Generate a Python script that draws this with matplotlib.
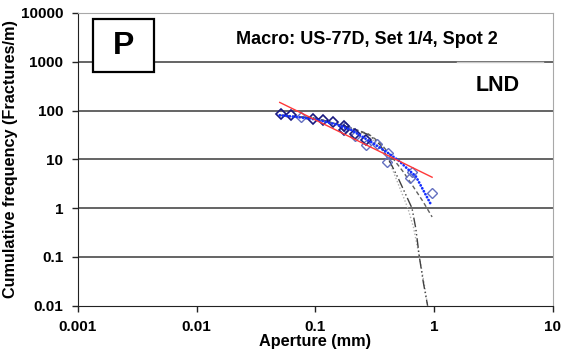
import matplotlib
matplotlib.use("Agg")
import matplotlib.pyplot as plt
from matplotlib.patches import Rectangle
from matplotlib.lines import Line2D

plt.rcParams['font.family'] = ['Liberation Sans', 'DejaVu Sans']

# Measured apertures (mm) and cumulative frequencies (fractures/m)
dark_aperture = [0.051, 0.062, 0.096, 0.116, 0.141, 0.175, 0.175, 0.217, 0.269]
dark_freq = [84, 82, 68, 64, 58, 49, 40, 33, 25]
light_aperture = [0.076, 0.179, 0.217, 0.269, 0.33, 0.407, 0.40, 0.652, 0.631, 0.962]
light_freq = [75, 45, 30, 19.7, 21, 13.3, 8.9, 5.6, 4.1, 2.06]

# Power-law fit (straight line in log-log space)
power_aperture = [0.05, 0.96]
power_freq = [147, 4.3]

# Log-normal fit
lognorm_aperture = [0.05, 0.07, 0.1, 0.15, 0.2, 0.3, 0.4, 0.5, 0.6, 0.7, 0.8, 0.93]
lognorm_freq = [80, 74, 66, 52, 40, 22, 14, 9.5, 6.3, 4.5, 2.45, 1.24]

# Alternative fits
dashed_aperture = [0.05, 0.1, 0.2, 0.28, 0.35, 0.46, 0.55, 0.67, 0.8, 0.96]
dashed_freq = [80, 70, 44, 33, 22, 9.7, 5.5, 2.7, 1.4, 0.66]
dashdot_aperture = [0.05, 0.1, 0.2, 0.28, 0.35, 0.43, 0.5, 0.57, 0.65, 0.70, 0.75, 0.81, 0.88]
dashdot_freq = [80, 70, 44, 32, 20, 8.3, 4.0, 2.0, 1.0, 0.38, 0.1, 0.03, 0.01]
dotted_aperture = [0.05, 0.1, 0.2, 0.3, 0.4, 0.52, 0.6, 0.67, 0.75, 0.82, 0.88]
dotted_freq = [78, 68, 42, 26, 12, 2.4, 1.0, 0.4, 0.1, 0.03, 0.01]

x_ticks = [0.001, 0.01, 0.1, 1, 10]
x_tick_labels = ['0.001', '0.01', '0.1', '1', '10']
y_ticks = [0.01, 0.1, 1, 10, 100, 1000, 10000]
y_tick_labels = ['0.01', '0.1', '1', '10', '100', '1000', '10000']

fig = plt.figure(figsize=(5.79, 3.54), dpi=100)
ax = fig.add_axes([0.1347, 0.1364, 0.8203, 0.8269])
ax.set_xscale('log')
ax.set_yscale('log')
ax.set_xlim(0.001, 10)
ax.set_ylim(0.01, 10000)

for yv in y_ticks[1:-1]:
    ax.axhline(yv, color='#3a3a3a', lw=1.1, zorder=1)

ax.plot(dotted_aperture, dotted_freq, color='#b0b0b0', lw=1.0,
        linestyle=(0, (1, 1.5)), zorder=2)
ax.plot(dashdot_aperture, dashdot_freq, color='#404040', lw=1.0,
        linestyle=(0, (7, 2, 1, 2, 1, 2)), zorder=2)
ax.plot(dashed_aperture, dashed_freq, color='#606060', lw=1.0,
        linestyle=(0, (3, 2)), zorder=2)
ax.plot(light_aperture, light_freq, linestyle='none', marker='D', markersize=5.5,
        markerfacecolor='none', markeredgecolor='#6470c0', markeredgewidth=1.0, zorder=3)
ax.plot(dark_aperture, dark_freq, linestyle='none', marker='D', markersize=5.5,
        markerfacecolor='none', markeredgecolor='#1a1a80', markeredgewidth=1.2, zorder=3)
ax.plot(lognorm_aperture, lognorm_freq, color='#1530ff', lw=2.0,
        linestyle=(0, (0.05, 1.15)), dash_capstyle='round', zorder=4)
ax.plot(power_aperture, power_freq, color='#ff3838', lw=1.0, zorder=5)

ax.set_xticks(x_ticks)
ax.set_xticklabels(x_tick_labels)
ax.set_yticks(y_ticks)
ax.set_yticklabels(y_tick_labels)
ax.minorticks_off()
ax.tick_params(axis='both', direction='out', length=4.5, width=1, color='#222222',
               labelsize=11, pad=6)
for lab in ax.get_xticklabels() + ax.get_yticklabels():
    lab.set_fontweight('bold')

ax.spines['left'].set_color('#222222')
ax.spines['bottom'].set_color('#222222')
ax.spines['top'].set_color('#a8a8a8')
ax.spines['right'].set_color('#a8a8a8')

ax.set_xlabel('Aperture (mm)', fontsize=11.7, fontweight='bold', labelpad=0)
ax.set_ylabel('Cumulative frequency (Fractures/m)', fontsize=11.7, fontweight='bold',
              labelpad=2)

# Panel letter box
ax.add_patch(Rectangle((0.032, 0.798), 0.128, 0.182, transform=ax.transAxes,
                       facecolor='white', edgecolor='black', lw=1.6, zorder=6))
ax.text(0.096, 0.887, 'P', transform=ax.transAxes, fontsize=23, fontweight='bold',
        ha='center', va='center', zorder=7)

ax.text(0.608, 0.908, 'Macro: US-77D, Set 1/4, Spot 2', transform=ax.transAxes,
        fontsize=13, fontweight='bold', ha='center', va='center', zorder=7)

# Distribution label box
ax.add_patch(Rectangle((0.798, 0.685), 0.181, 0.148, transform=ax.transAxes,
                       facecolor='white', edgecolor='none', zorder=5))
ax.add_line(Line2D([0.798, 0.979], [0.833, 0.833], transform=ax.transAxes,
                   color='#c8c8c8', lw=1.0, zorder=6))
ax.text(0.884, 0.754, 'LND', transform=ax.transAxes, fontsize=15.5, fontweight='bold',
        ha='center', va='center', zorder=7)

fig.savefig('out.png', dpi=100)
